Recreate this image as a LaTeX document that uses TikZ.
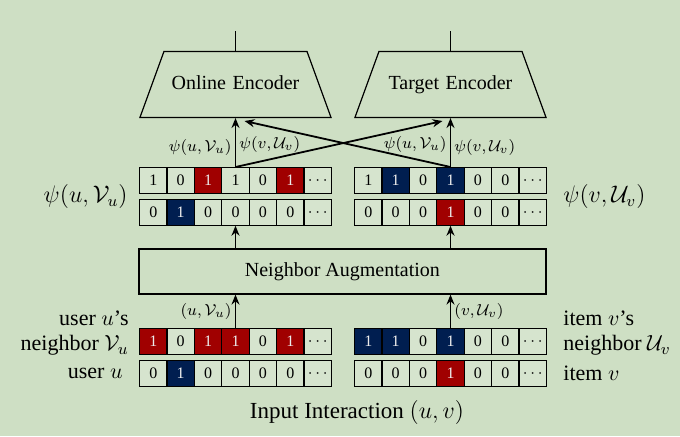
\documentclass[tikz,border=0pt]{standalone}
\usepackage{fontspec}
\setmainfont{Liberation Serif}
\usepackage{xcolor}
\usetikzlibrary{shapes.geometric, arrows.meta, positioning}
\definecolor{bgcol}{RGB}{206,223,196}
\definecolor{cellcol}{RGB}{214,228,206}
\definecolor{redcol}{RGB}{160,0,0}
\definecolor{bluecol}{RGB}{0,30,80}
\tikzset{
  cell/.style={rectangle, draw, line width=0.6pt, minimum width=13.7pt, minimum height=12.75pt, inner sep=0pt, anchor=north west, font=\fontsize{8}{8}\selectfont},
  offc/.style={fill=cellcol},
  redc/.style={fill=redcol, text=white!85!gray},
  bluc/.style={fill=bluecol, text=white!85!gray},
  enc/.style={trapezium, draw, line width=0.6pt, trapezium angle=70, text width=67pt, align=center, text height=7pt, text depth=2.4pt, inner xsep=2.25pt, inner ysep=11.8pt, font=\fontsize{10}{12}\selectfont},
  box/.style={rectangle, draw, line width=0.6pt, minimum width=203.5pt, minimum height=22.5pt, font=\fontsize{10}{12}\selectfont},
  arrow/.style={-{Stealth[length=5pt, width=4pt]}, line width=0.9pt},
  lbl/.style={font=\fontsize{8}{9}\selectfont, inner sep=1.5pt},
  side/.style={font=\fontsize{11}{12.5}\selectfont, inner sep=0pt},
  psi/.style={font=\fontsize{12}{14}\selectfont, inner sep=0pt},
}
\newcommand{\cellrow}[4]{%
  \foreach \v/\s [count=\i] in {#4}
    \node[cell, \s] (#1\i) at ({#2+(\i-1)*27.4}, #3) {\v};
}

\begin{document}
\begin{tikzpicture}[x=0.5pt, y=-0.5pt]
    \fill[bgcol] (0,0) rectangle (680,436);
    \useasboundingbox (0,0) rectangle (680,436);

    \cellrow{ot}{139}{167}{1/offc, 0/offc, 1/redc, 1/offc, 0/offc, 1/redc, $\cdots$/offc}
    \cellrow{ob}{139}{199}{0/offc, 1/bluc, 0/offc, 0/offc, 0/offc, 0/offc, $\cdots$/offc}
    \cellrow{tt}{354}{167}{1/offc, 1/bluc, 0/offc, 1/bluc, 0/offc, 0/offc, $\cdots$/offc}
    \cellrow{tb}{354}{199}{0/offc, 0/offc, 0/offc, 1/redc, 0/offc, 0/offc, $\cdots$/offc}
    \cellrow{un}{139}{328}{1/redc, 0/offc, 1/redc, 1/redc, 0/offc, 1/redc, $\cdots$/offc}
    \cellrow{us}{139}{360}{0/offc, 1/bluc, 0/offc, 0/offc, 0/offc, 0/offc, $\cdots$/offc}
    \cellrow{in}{354}{328}{1/bluc, 1/bluc, 0/offc, 1/bluc, 0/offc, 0/offc, $\cdots$/offc}
    \cellrow{it}{354}{360}{0/offc, 0/offc, 0/offc, 1/redc, 0/offc, 0/offc, $\cdots$/offc}

    \node[enc, above=24.5pt of ot4.north] (onl) {Online Encoder};
    \node[enc, above=24.5pt of tt4.north] (tgt) {Target Encoder};
    \node[box] (aug) at (342.4,271.5) {Neighbor Augmentation};

    \coordinate[above=10pt of onl.north] (onlout);
    \coordinate[above=10pt of tgt.north] (tgtout);
    \draw[line width=0.9pt] (onl.north) -- (onlout);
    \draw[line width=0.9pt] (tgt.north) -- (tgtout);

    \draw[arrow] (ot4.north) -- (onl.south)
      node[lbl, pos=0.4, left] {$\psi(u,\mathcal{V}_u)$}
      node[lbl, pos=0.45, right] {$\psi(v,\mathcal{U}_v)$};
    \draw[arrow] (tt4.north) -- (tgt.south)
      node[lbl, pos=0.45, left] {$\psi(u,\mathcal{V}_u)$}
      node[lbl, pos=0.4, right] {$\psi(v,\mathcal{U}_v)$};
    \draw[arrow] (ot4.north) -- ([xshift=-4pt, yshift=-1.5pt]tgt.south);
    \draw[arrow] (tt4.north) -- ([xshift=4.5pt, yshift=-1.5pt]onl.south);

    \draw[arrow] (ob4.south |- aug.north) -- (ob4.south);
    \draw[arrow] (tb4.south |- aug.north) -- (tb4.south);
    \draw[arrow] (un4.north) -- (un4.north |- aug.south) node[lbl, midway, left] {$(u,\mathcal{V}_u)$};
    \draw[arrow] (in4.north) -- (in4.north |- aug.south) node[lbl, midway, right] {$(v,\mathcal{U}_v)$};

    \node[psi, left=5.5pt of ot1.south west, yshift=-1.5pt] (psil) {$\psi(u,\mathcal{V}_u)$};
    \node[psi, right=8pt of tt7.south east, yshift=-1.5pt] (psir) {$\psi(v,\mathcal{U}_v)$};
    \node[side, align=right, left=5pt of un1.west, yshift=4pt] (unl) {user $u$'s\\neighbor $\mathcal{V}_u$};
    \node[side, left=8pt of us1.west] (usl) {user $u$};
    \node[side, align=left, right=8pt of in7.east, yshift=4pt] (inl) {item $v$'s\\neighbor $\mathcal{U}_v$};
    \node[side, right=8pt of it7.east] (itl) {item $v$};
    \node[side, font=\fontsize{11.5}{13}\selectfont] (inp) at (357,412) {Input Interaction $(u,v)$};
\end{tikzpicture}
\end{document}
